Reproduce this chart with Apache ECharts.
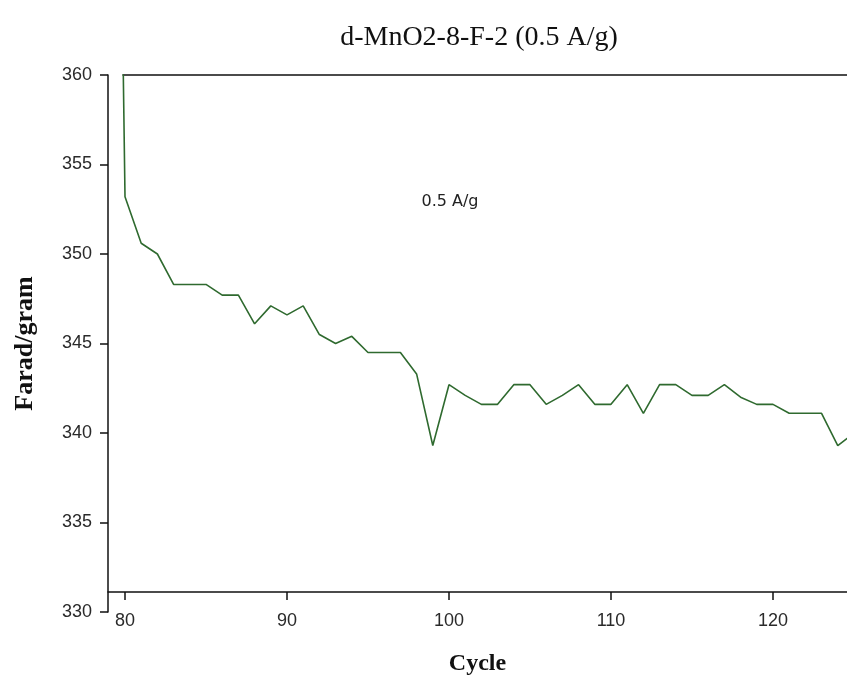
<!DOCTYPE html>
<html>
<head>
<meta charset="utf-8">
<script src="https://cdn.jsdelivr.net/npm/echarts@6/dist/echarts.min.js"></script>
<style>
html,body{margin:0;padding:0;background:#fff;}
#chart{width:847px;height:682px;}
</style>
</head>
<body>
<div id="chart"></div>
<script>
// Data
var cycles = [79, 80, 81, 82, 83, 84, 85, 86, 87, 88, 89, 90, 91, 92, 93, 94, 95, 96, 97, 98, 99,
  100, 101, 102, 103, 104, 105, 106, 107, 108, 109, 110, 111, 112, 113, 114, 115, 116, 117, 118, 119,
  120, 121, 122, 123, 124, 125];
var capacitance = [418, 353.2, 350.6, 350.0, 348.3, 348.3, 348.3, 347.7, 347.7, 346.1, 347.1, 346.6,
  347.1, 345.5, 345.0, 345.4, 344.5, 344.5, 344.5, 343.3, 339.3,
  342.7, 342.1, 341.6, 341.6, 342.7, 342.7, 341.6, 342.1, 342.7, 341.6, 341.6, 342.7, 341.1, 342.7, 342.7,
  342.1, 342.1, 342.7, 342.0, 341.6, 341.6, 341.1, 341.1, 341.1, 339.3, 340.0];
var xTicks = [80, 90, 100, 110, 120];
var titleText = 'd-MnO2-8-F-2 (0.5 A/g)';
var annotationText = '0.5 A/g';
var xName = 'Cycle';
var yName = 'Farad/gram';

var seriesData = cycles.map(function (c, i) { return [c, capacitance[i]]; });

var chart = echarts.init(document.getElementById('chart'), null, {renderer: 'canvas'});
var axisColor = '#111';
var labelFont = {fontFamily: 'Liberation Sans', fontSize: 18, color: '#2a2a2a'};

chart.setOption({
  animation: false,
  backgroundColor: '#fff',
  graphic: [
    {type: 'text', x: 479, y: 38,
     style: {text: titleText, textAlign: 'center', textVerticalAlign: 'middle',
       font: '28px "Liberation Serif"', fill: '#111'}},
    {type: 'text', x: 450, y: 202,
     style: {text: annotationText, textAlign: 'center', textVerticalAlign: 'middle',
       font: '16px "DejaVu Sans"', fill: '#222'}}
  ],
  grid: [
    {left: 108, right: 0, top: 75, bottom: 70, containLabel: false},
    {left: 123, right: 0, top: 75, height: 20, containLabel: false}
  ],
  xAxis: [
    {
      type: 'value', gridIndex: 0, min: 78.95, max: 124.57, offset: -20,
      name: xName, nameLocation: 'middle', nameGap: 60,
      nameTextStyle: {fontFamily: 'Liberation Serif', fontWeight: 'bold', fontSize: 24, color: '#111'},
      axisLine: {show: true, lineStyle: {color: axisColor, width: 1.5}},
      axisTick: {show: true, length: 8, inside: false, customValues: xTicks, lineStyle: {color: axisColor, width: 1.5}},
      axisLabel: Object.assign({margin: 20, customValues: xTicks}, labelFont),
      splitLine: {show: false}
    },
    {
      type: 'value', gridIndex: 1, position: 'top', min: 0, max: 1,
      axisLine: {show: true, onZero: false, lineStyle: {color: axisColor, width: 1.5}},
      axisTick: {show: false}, axisLabel: {show: false}, splitLine: {show: false}
    }
  ],
  yAxis: [
    {
      type: 'value', gridIndex: 0, min: 330, max: 360, interval: 5,
      name: yName, nameLocation: 'middle', nameGap: 70, nameRotate: 90,
      nameTextStyle: {fontFamily: 'Liberation Serif', fontWeight: 'bold', fontSize: 26, color: '#111'},
      axisLine: {show: true, lineStyle: {color: axisColor, width: 1.5}},
      axisTick: {show: true, length: 8, inside: false, lineStyle: {color: axisColor, width: 1.5}},
      axisLabel: Object.assign({margin: 16}, labelFont),
      splitLine: {show: false}
    },
    {
      type: 'value', gridIndex: 1, min: 0, max: 1, show: false
    }
  ],
  series: [
    {
      type: 'line', xAxisIndex: 0, yAxisIndex: 0,
      data: seriesData, showSymbol: false, symbol: 'none', clip: true,
      lineStyle: {color: '#2f6a2f', width: 1.6},
      z: 3
    }
  ]
});
</script>
</body>
</html>
